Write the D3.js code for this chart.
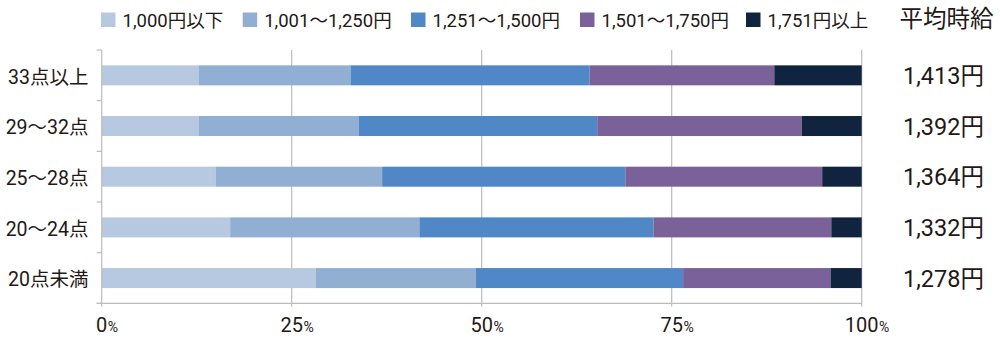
<!DOCTYPE html>
<html><head><meta charset="utf-8">
<script src="https://cdn.jsdelivr.net/npm/d3@7"></script>
<style>
html,body{margin:0;padding:0;background:#fff;}
svg{display:block;font-family:Roboto,"Noto Sans CJK JP",sans-serif;}
</style></head>
<body><svg id="c" width="1000" height="339"></svg>
<script>
const categories = ["33点以上","29～32点","25～28点","20～24点","20点未満"];
const seriesNames = ["1,000円以下","1,001～1,250円","1,251～1,500円","1,501～1,750円","1,751円以上"];
const s1 = [12.8, 12.8, 15.0, 16.9, 28.2];
const s2 = [20.0, 21.0, 21.9, 24.9, 21.0];
const s3 = [31.4, 31.4, 32.0, 30.8, 27.3];
const s4 = [24.3, 26.9, 25.9, 23.4, 19.4];
const s5 = [11.5, 7.9, 5.2, 4.0, 4.1];
const avgWage = ["1,413円","1,392円","1,364円","1,332円","1,278円"];
const xTicks = [0, 25, 50, 75, 100];
const rightTitle = "平均時給";
const colors = ["#b7c9e0","#91afd3","#5087c6","#7b6199","#10243f"];
const legendX = [101, 242.7, 411, 580, 746];

const series = [s1,s2,s3,s4,s5];
const rows = categories.map((c,i)=>{ const o={cat:c}; series.forEach((s,k)=>o["k"+k]=s[i]); return o; });
const stack = d3.stack().keys(series.map((_,k)=>"k"+k))(rows);

const svg = d3.select("#c");
const textCol = "#231815";
const x = d3.scaleLinear().domain([0,100]).range([101.7, 861.7]);
const y = d3.scaleBand().domain(categories).range([50, 303.4]).padding(0);
const barH = 20;

// gridlines
svg.append("g").selectAll("line").data(xTicks.filter(t=>t>0)).join("line")
  .attr("x1",d=>x(d)).attr("x2",d=>x(d)).attr("y1",50).attr("y2",306.5)
  .attr("stroke","#bcbcbc").attr("stroke-width",1.2);

// bars
svg.append("g").selectAll("g").data(stack).join("g")
  .attr("fill",(d,i)=>colors[i])
  .selectAll("rect").data(d=>d).join("rect")
  .attr("x",d=>x(d[0])).attr("width",d=>x(d[1])-x(d[0]))
  .attr("y",d=>y(d.data.cat)+(y.bandwidth()-barH)/2).attr("height",barH);

// y axis line + ticks at band boundaries
const yb = categories.map(c=>y(c)).concat([y.range()[1]]);
svg.append("line").attr("x1",x(0)).attr("x2",x(0)).attr("y1",50).attr("y2",306.5)
  .attr("stroke","#bcbcbc").attr("stroke-width",1.2);
svg.append("g").selectAll("line").data(yb).join("line")
  .attr("x1",x(0)-5).attr("x2",x(0)).attr("y1",d=>d).attr("y2",d=>d)
  .attr("stroke","#bcbcbc").attr("stroke-width",1.2);
// x axis line
svg.append("line").attr("x1",x(0)-5).attr("x2",x(100)).attr("y1",y.range()[1]).attr("y2",y.range()[1])
  .attr("stroke","#bcbcbc").attr("stroke-width",1.4);

// y labels
svg.append("g").selectAll("text").data(categories).join("text")
  .attr("x",88.5).attr("y",d=>y(d)+y.bandwidth()/2).attr("dy","0.42em")
  .attr("text-anchor","end").attr("font-size",19.5).attr("fill",textCol).text(d=>d);

// x tick labels
const xl = svg.append("g");
xTicks.forEach(t=>{
  const n = xl.append("text").attr("x",x(t)).attr("y",331.5).attr("text-anchor","middle")
    .attr("font-size",20).attr("fill",textCol).text(t);
  const w = n.node().getComputedTextLength();
  xl.append("text").attr("x",x(t)+w/2+0.5).attr("y",331.5).attr("font-size",14)
    .attr("fill",textCol).text("%");
});

// right values
svg.append("g").selectAll("text").data(avgWage).join("text")
  .attr("x",943.5).attr("y",(d,i)=>y(categories[i])+y.bandwidth()/2).attr("dy","0.37em")
  .attr("text-anchor","middle").attr("font-size",23.5).attr("fill",textCol).text(d=>d);

svg.append("text").attr("x",946.5).attr("y",27).attr("text-anchor","middle")
  .attr("font-size",23.5).attr("fill",textCol).text(rightTitle);

// legend
seriesNames.forEach((n,i)=>{
  const lx = legendX[i];
  svg.append("rect").attr("x",lx).attr("y",12.5).attr("width",14.5).attr("height",14.5).attr("fill",colors[i]);
  svg.append("text").attr("x",lx+21.5).attr("y",26.7).attr("font-size",18.5)
    .attr("fill",textCol).text(n);
});
</script></body></html>
